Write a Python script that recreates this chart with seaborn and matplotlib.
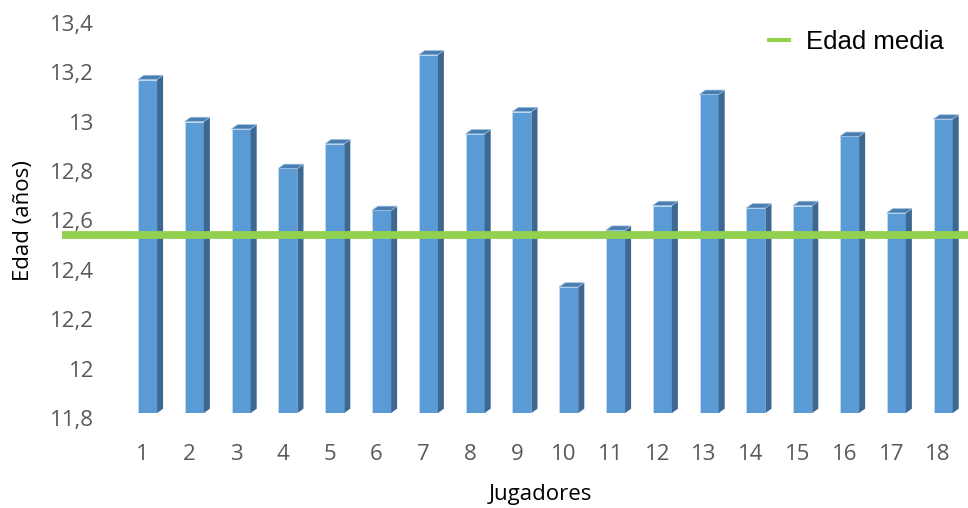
import matplotlib
matplotlib.use("Agg")
import matplotlib.pyplot as plt
import matplotlib.transforms as mtransforms
from matplotlib.patches import Polygon
from matplotlib.lines import Line2D
import seaborn as sns
import pandas as pd

# Edad por jugador (años)
jugadores = [str(i) for i in range(1, 19)]
edades = [13.15, 12.98, 12.95, 12.79, 12.89, 12.62, 13.25, 12.93, 13.02,
          12.31, 12.54, 12.64, 13.09, 12.63, 12.64, 12.92, 12.61, 12.99]
edad_media = 12.52
y_ticks = [11.8, 12.0, 12.2, 12.4, 12.6, 12.8, 13.0, 13.2, 13.4]
y_labels = ["11,8", "12", "12,2", "12,4", "12,6", "12,8", "13", "13,2", "13,4"]

FRONT = "#5B9BD5"
SIDE = "#3C6892"
TOP = "#4A7DB0"
GREEN = "#92D050"

sns.set_theme(style="white")
plt.rcParams["font.family"] = ["Open Sans", "DejaVu Sans"]

W, H = 968, 508
fig = plt.figure(figsize=(W / 100, H / 100), dpi=100)
# axes box in pixels: left 100.7, right 966.5, top 10, bottom 413
ax_l, ax_r, ax_t, ax_b = 100.7, 966.5, 10, 413
ax = fig.add_axes([ax_l / W, (H - ax_b) / H, (ax_r - ax_l) / W, (ax_b - ax_t) / H])

df = pd.DataFrame({"Jugador": jugadores, "Edad": edades})
bar_w = 0.41
sns.barplot(data=df, x="Jugador", y="Edad", color=FRONT, saturation=1,
            width=bar_w, ax=ax, edgecolor="#C6DBF0", linewidth=0.6, zorder=2)

y_lo = 11.8
y_hi = y_lo + (ax_b - ax_t) / 247.0
x_lo, x_hi = -1.0, 17.5
ax.set_xlim(x_lo, x_hi)
ax.set_ylim(y_lo, y_hi)

# depth of the 3D faces, converted from pixels to data units
px_per_x = (ax_r - ax_l) / (x_hi - x_lo)
px_per_y = 247.0
dx = 6.0 / px_per_x
dy = 4.3 / px_per_y

for i, v in enumerate(edades):
    xl = i - bar_w / 2
    xr = i + bar_w / 2
    side = Polygon([(xr, y_lo), (xr + dx, y_lo + dy), (xr + dx, v + dy), (xr, v)],
                   closed=True, facecolor=SIDE, edgecolor="none", zorder=2)
    top = Polygon([(xl, v), (xl + dx, v + dy), (xr + dx, v + dy), (xr, v)],
                  closed=True, facecolor=TOP, edgecolor="#9CBFE3", linewidth=0.5,
                  zorder=2)
    ax.add_patch(side)
    ax.add_patch(top)

# mean age line, running across the whole chart width
x_left = x_lo - (ax_l - 62) / px_per_x
x_right = x_hi + (W - ax_r) / px_per_x
ax.plot([x_left, x_right], [edad_media, edad_media], color=GREEN, lw=5.6,
        solid_capstyle="butt", clip_on=False, zorder=5)

for s in ax.spines.values():
    s.set_visible(False)
ax.grid(False)
ax.set_xlabel("")
ax.set_ylabel("")
ax.set_yticks(y_ticks)
ax.set_yticklabels(y_labels)
ax.tick_params(axis="y", length=0, pad=4.8, labelsize=16, labelcolor="#595959")
ax.tick_params(axis="x", length=0, pad=22, labelsize=16, labelcolor="#595959")

shift_y = mtransforms.ScaledTranslation(0, -0.05, fig.dpi_scale_trans)
for lab in ax.get_yticklabels():
    lab.set_transform(lab.get_transform() + shift_y)
shift_x = mtransforms.ScaledTranslation(-0.05, 0, fig.dpi_scale_trans)
for lab in ax.get_xticklabels():
    lab.set_transform(lab.get_transform() + shift_x)

fig.text(540 / W, 1 - 500 / H, "Jugadores", ha="center", va="baseline",
         fontsize=16, color="#000000")
fig.text(24 / W, 1 - 221 / H, "Edad (años)", ha="center", va="center",
         rotation=90, fontsize=16, color="#000000")

handle = Line2D([], [], color=GREEN, lw=3.0, solid_capstyle="butt")
fig.legend([handle], ["Edad media"], loc="center left",
           bbox_to_anchor=(767 / W, 1 - 42 / H), frameon=False,
           borderpad=0, borderaxespad=0, handlelength=0.95, handletextpad=0.55,
           labelcolor="#000000",
           prop={"family": "Liberation Sans", "size": 18.5})

fig.savefig("out.png", dpi=100)
